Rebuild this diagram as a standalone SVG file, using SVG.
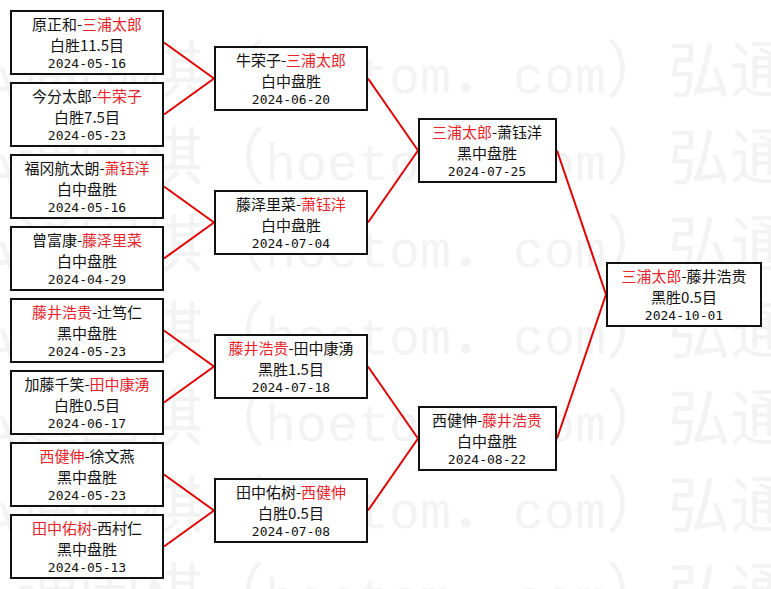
<svg xmlns="http://www.w3.org/2000/svg" xmlns:xlink="http://www.w3.org/1999/xlink" width="771" height="589" viewBox="0 0 771 589">
<style>
.wm{font-family:"Noto Sans CJK SC",sans-serif;font-size:62px;fill:#f3f3f3}
.wml{font-family:"Liberation Mono",monospace;font-size:51.7px}
.box{fill:#fff;stroke:#111;stroke-width:2}
.t{font-family:"Noto Sans CJK SC",sans-serif;font-size:15px;fill:#111;text-anchor:middle}
.d{font-family:"DejaVu Sans Mono",monospace;font-size:13px;fill:#111;text-anchor:middle}
.r{fill:#e8242c}
.c{stroke:#e00000;stroke-width:2;fill:none}
</style>
<defs>
<g id="wmrow">
<text class="wm" x="-45" y="0">弘通围棋（</text><text class="wm wml" x="265" y="0">hoetom</text><text class="wm" x="451" y="0">．</text><text class="wm wml" x="513" y="0">com</text><text class="wm" x="606" y="0">）</text>
<text class="wm" x="668" y="0">弘通围棋（</text>
</g>
</defs>
<rect x="0" y="0" width="771" height="589" fill="#fff"/>
<g id="watermark">
<use xlink:href="#wmrow" href="#wmrow" y="93"/>
<use xlink:href="#wmrow" href="#wmrow" y="180"/>
<use xlink:href="#wmrow" href="#wmrow" y="267"/>
<use xlink:href="#wmrow" href="#wmrow" y="354"/>
<use xlink:href="#wmrow" href="#wmrow" y="441"/>
<use xlink:href="#wmrow" href="#wmrow" y="528"/>
<use xlink:href="#wmrow" href="#wmrow" y="615"/>
</g>
<g id="connectors">
<line class="c" x1="164" y1="42.5" x2="214" y2="78.5"/>
<line class="c" x1="164" y1="114.5" x2="214" y2="78.5"/>
<line class="c" x1="164" y1="186.5" x2="214" y2="222.5"/>
<line class="c" x1="164" y1="258.5" x2="214" y2="222.5"/>
<line class="c" x1="164" y1="330.5" x2="214" y2="366.5"/>
<line class="c" x1="164" y1="402.5" x2="214" y2="366.5"/>
<line class="c" x1="164" y1="474.5" x2="214" y2="510.5"/>
<line class="c" x1="164" y1="546.5" x2="214" y2="510.5"/>
<line class="c" x1="368" y1="78.5" x2="418" y2="150.5"/>
<line class="c" x1="368" y1="222.5" x2="418" y2="150.5"/>
<line class="c" x1="368" y1="366.5" x2="418" y2="438.5"/>
<line class="c" x1="368" y1="510.5" x2="418" y2="438.5"/>
<line class="c" x1="557" y1="150.5" x2="606" y2="294.5"/>
<line class="c" x1="557" y1="438.5" x2="606" y2="294.5"/>
</g>
<g id="r1_1"><rect class="box" x="11" y="11" width="152" height="63"/><text class="t" x="87" y="30">原正和-<tspan class="r">三浦太郎</tspan></text><text class="t" x="87" y="51">白胜11.5目</text><text class="d" x="87" y="68">2024-05-16</text></g>
<g id="r1_2"><rect class="box" x="11" y="83" width="152" height="63"/><text class="t" x="87" y="102">今分太郎-<tspan class="r">牛荣子</tspan></text><text class="t" x="87" y="123">白胜7.5目</text><text class="d" x="87" y="140">2024-05-23</text></g>
<g id="r1_3"><rect class="box" x="11" y="155" width="152" height="63"/><text class="t" x="87" y="174">福冈航太朗-<tspan class="r">萧钰洋</tspan></text><text class="t" x="87" y="195">白中盘胜</text><text class="d" x="87" y="212">2024-05-16</text></g>
<g id="r1_4"><rect class="box" x="11" y="227" width="152" height="63"/><text class="t" x="87" y="246">曾富康-<tspan class="r">藤泽里菜</tspan></text><text class="t" x="87" y="267">白中盘胜</text><text class="d" x="87" y="284">2024-04-29</text></g>
<g id="r1_5"><rect class="box" x="11" y="299" width="152" height="63"/><text class="t" x="87" y="318"><tspan class="r">藤井浩贵</tspan>-辻笃仁</text><text class="t" x="87" y="339">黑中盘胜</text><text class="d" x="87" y="356">2024-05-23</text></g>
<g id="r1_6"><rect class="box" x="11" y="371" width="152" height="63"/><text class="t" x="87" y="390">加藤千笑-<tspan class="r">田中康湧</tspan></text><text class="t" x="87" y="411">白胜0.5目</text><text class="d" x="87" y="428">2024-06-17</text></g>
<g id="r1_7"><rect class="box" x="11" y="443" width="152" height="63"/><text class="t" x="87" y="462"><tspan class="r">西健伸</tspan>-徐文燕</text><text class="t" x="87" y="483">黑中盘胜</text><text class="d" x="87" y="500">2024-05-23</text></g>
<g id="r1_8"><rect class="box" x="11" y="515" width="152" height="63"/><text class="t" x="87" y="534"><tspan class="r">田中佑树</tspan>-西村仁</text><text class="t" x="87" y="555">黑中盘胜</text><text class="d" x="87" y="572">2024-05-13</text></g>
<g id="r2_1"><rect class="box" x="215" y="47" width="152" height="63"/><text class="t" x="291" y="66">牛荣子-<tspan class="r">三浦太郎</tspan></text><text class="t" x="291" y="87">白中盘胜</text><text class="d" x="291" y="104">2024-06-20</text></g>
<g id="r2_2"><rect class="box" x="215" y="191" width="152" height="63"/><text class="t" x="291" y="210">藤泽里菜-<tspan class="r">萧钰洋</tspan></text><text class="t" x="291" y="231">白中盘胜</text><text class="d" x="291" y="248">2024-07-04</text></g>
<g id="r2_3"><rect class="box" x="215" y="335" width="152" height="63"/><text class="t" x="291" y="354"><tspan class="r">藤井浩贵</tspan>-田中康湧</text><text class="t" x="291" y="375">黑胜1.5目</text><text class="d" x="291" y="392">2024-07-18</text></g>
<g id="r2_4"><rect class="box" x="215" y="479" width="152" height="63"/><text class="t" x="291" y="498">田中佑树-<tspan class="r">西健伸</tspan></text><text class="t" x="291" y="519">白胜0.5目</text><text class="d" x="291" y="536">2024-07-08</text></g>
<g id="r3_1"><rect class="box" x="419" y="119" width="137" height="63"/><text class="t" x="487" y="138"><tspan class="r">三浦太郎</tspan>-萧钰洋</text><text class="t" x="487" y="159">黑中盘胜</text><text class="d" x="487" y="176">2024-07-25</text></g>
<g id="r3_2"><rect class="box" x="419" y="407" width="137" height="63"/><text class="t" x="487" y="426">西健伸-<tspan class="r">藤井浩贵</tspan></text><text class="t" x="487" y="447">白中盘胜</text><text class="d" x="487" y="464">2024-08-22</text></g>
<g id="final"><rect class="box" x="607" y="263" width="154" height="63"/><text class="t" x="684" y="282"><tspan class="r">三浦太郎</tspan>-藤井浩贵</text><text class="t" x="684" y="303">黑胜0.5目</text><text class="d" x="684" y="320">2024-10-01</text></g>
</svg>
